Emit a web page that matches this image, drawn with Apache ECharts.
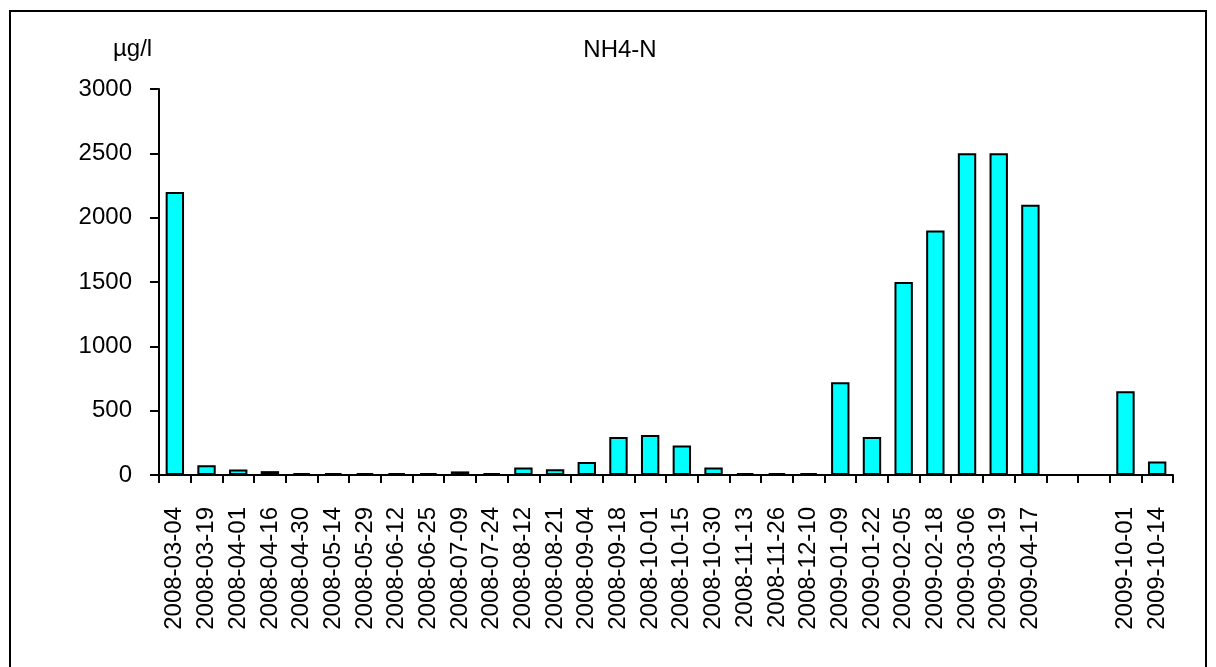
<!DOCTYPE html>
<html>
<head>
<meta charset="utf-8">
<script src="https://cdn.jsdelivr.net/npm/echarts@6/dist/echarts.min.js"></script>
<style>
	html, body { margin: 0; padding: 0; background: #fff; }
	#frame {
		position: absolute; left: 9px; top: 10px; width: 1198px; height: 720px;
		border: 2px solid #000; box-sizing: border-box;
	}
	#chart { position: absolute; left: 0; top: 0; width: 1216px; height: 667px; }
</style>
</head>
<body>
<div id="frame"></div>
<div id="chart"></div>
<script>
	// sampling dates, two empty slots between April and October 2009
	const dates = [
		"2008-03-04", "2008-03-19", "2008-04-01", "2008-04-16", "2008-04-30",
		"2008-05-14", "2008-05-29", "2008-06-12", "2008-06-25", "2008-07-09",
		"2008-07-24", "2008-08-12", "2008-08-21", "2008-09-04", "2008-09-18",
		"2008-10-01", "2008-10-15", "2008-10-30", "2008-11-13", "2008-11-26",
		"2008-12-10", "2009-01-09", "2009-01-22", "2009-02-05", "2009-02-18",
		"2009-03-06", "2009-03-19", "2009-04-17", "", "",
		"2009-10-01", "2009-10-14"
	];

	// NH4-N, µg/l
	const nh4 = [
		2200, 75, 42, 30, 14,
		14, 14, 14, 14, 28,
		14, 58, 44, 102, 295,
		310, 230, 58, 14, 14,
		14, 720, 295, 1500, 1900,
		2500, 2500, 2100, "-", "-",
		650, 105
	];

	const yTicks = [0, 500, 1000, 1500, 2000, 2500, 3000];

	const font = "Liberation Sans, Arial, sans-serif";
	const chart = echarts.init(document.getElementById("chart"));

	chart.setOption({
		animation: false,
		title: {
			text: "NH4-N",
			left: 615,
			top: 33,
			textAlign: "center",
			textStyle: { fontFamily: font, fontSize: 24, fontWeight: "normal", color: "#000" }
		},
		graphic: [
			{
				type: "text",
				left: 113,
				top: 37,
				style: { text: "µg/l", font: "24px " + font, fill: "#000" }
			}
		],
		grid: { left: 159, right: 43, top: 89, bottom: 192 },
		xAxis: {
			type: "category",
			data: dates,
			axisLine: { lineStyle: { color: "#000", width: 2 } },
			axisTick: { show: true, length: 8, lineStyle: { color: "#000", width: 2 } },
			axisLabel: {
				interval: 0,
				rotate: 90,
				margin: 32,
				color: "#000",
				fontFamily: font,
				fontSize: 24
			}
		},
		yAxis: {
			type: "value",
			min: yTicks[0],
			max: yTicks[yTicks.length - 1],
			interval: 500,
			splitLine: { show: false },
			axisLine: { show: true, lineStyle: { color: "#000", width: 2 } },
			axisTick: { show: true, length: 9, lineStyle: { color: "#000", width: 2 } },
			axisLabel: {
				margin: 27,
				color: "#000",
				fontFamily: font,
				fontSize: 24,
				formatter: v => String(v)
			}
		},
		series: [
			{
				type: "bar",
				data: nh4,
				barCategoryGap: "42%",
				itemStyle: { color: "#00ffff", borderColor: "#000", borderWidth: 2 }
			}
		]
	});
</script>
</body>
</html>
